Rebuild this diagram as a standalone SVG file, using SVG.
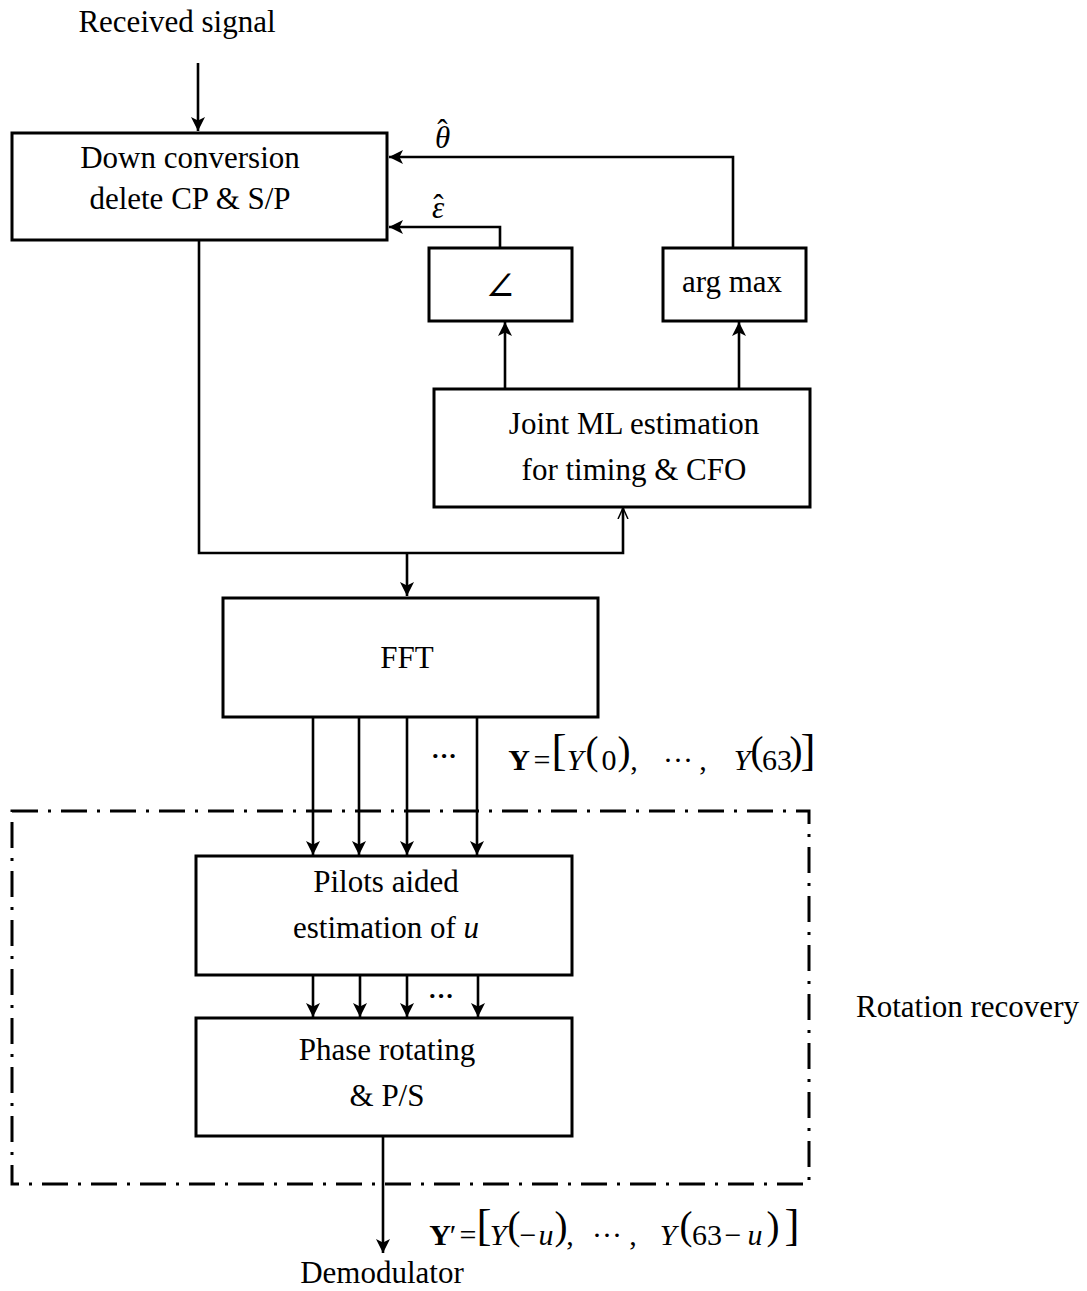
<svg xmlns="http://www.w3.org/2000/svg" width="1087" height="1291" viewBox="0 0 1087 1291">
<style>
  text { font-family: "Liberation Serif", "Times New Roman", serif; font-size: 31px; fill: #000; }
  .box { fill: #fff; stroke: #000; stroke-width: 3; }
  .c { text-anchor: middle; }
  .ln { fill: none; stroke: #000; stroke-width: 2.6; }
  .it { font-style: italic; }
  .bd { font-weight: bold; }
  .m { font-size: 30px; text-anchor: middle; }
  .p { font-size: 39px; text-anchor: middle; }
  .b { font-size: 45px; text-anchor: middle; }
  .dots { font-size: 26px; font-weight: bold; text-anchor: middle; }
</style>
<defs>
  <marker id="ah" markerUnits="userSpaceOnUse" markerWidth="16" markerHeight="16" refX="14" refY="7" orient="auto">
    <path d="M0,0 L14,7 L0,14 L3.5,7 z" fill="#000"/>
  </marker>
  <marker id="ao" markerUnits="userSpaceOnUse" markerWidth="14" markerHeight="14" refX="11" refY="6" orient="auto">
    <path d="M0,1 L11,6 L0,11" fill="none" stroke="#000" stroke-width="1.5"/>
  </marker>
</defs>

<g id="connectors">
  <line class="ln" x1="198" y1="63" x2="198" y2="131" marker-end="url(#ah)"/>
  <polyline class="ln" points="733,248 733,157 389,157" marker-end="url(#ah)"/>
  <polyline class="ln" points="500,248 500,227 389,227" marker-end="url(#ah)"/>
  <line class="ln" x1="505" y1="388" x2="505" y2="322" marker-end="url(#ah)"/>
  <line class="ln" x1="739" y1="388" x2="739" y2="322" marker-end="url(#ah)"/>
  <polyline class="ln" points="199,240 199,553 623,553 623,508" marker-end="url(#ao)"/>
  <line class="ln" x1="407" y1="553" x2="407" y2="596" marker-end="url(#ah)"/>
  <line class="ln" x1="313" y1="717" x2="313" y2="855" marker-end="url(#ah)"/>
  <line class="ln" x1="359" y1="717" x2="359" y2="855" marker-end="url(#ah)"/>
  <line class="ln" x1="407" y1="717" x2="407" y2="855" marker-end="url(#ah)"/>
  <line class="ln" x1="477" y1="717" x2="477" y2="855" marker-end="url(#ah)"/>
  <line class="ln" x1="313" y1="975" x2="313" y2="1017" marker-end="url(#ah)"/>
  <line class="ln" x1="360" y1="975" x2="360" y2="1017" marker-end="url(#ah)"/>
  <line class="ln" x1="407" y1="975" x2="407" y2="1017" marker-end="url(#ah)"/>
  <line class="ln" x1="478" y1="975" x2="478" y2="1017" marker-end="url(#ah)"/>
  <line class="ln" x1="383" y1="1136" x2="383" y2="1253" marker-end="url(#ah)"/>
</g>

<g id="rotation-recovery">
  <rect x="12" y="811" width="797" height="373" fill="none" stroke="#000" stroke-width="3" stroke-dasharray="26 10 3 10"/>
  <text x="856" y="1017">Rotation recovery</text>
</g>

<g id="received-signal">
  <text class="c" x="177" y="32">Received signal</text>
</g>

<g id="down-conversion">
  <rect class="box" x="12" y="133" width="375" height="107"/>
  <text class="c" x="190" y="168">Down conversion</text>
  <text class="c" x="190" y="209">delete CP &amp; S/P</text>
</g>

<g id="labels-feedback">
  <text x="435" y="148"><tspan class="it">θ</tspan><tspan dx="-13" dy="-7">ˆ</tspan></text>
  <text x="432" y="218"><tspan class="it">ε</tspan><tspan dx="-11" dy="-2">ˆ</tspan></text>
</g>

<g id="angle">
  <rect class="box" x="429" y="248" width="143" height="73"/>
  <text class="c" x="500" y="300" style="font-family:'DejaVu Serif','Liberation Serif',serif;font-size:40px">∠</text>
</g>

<g id="argmax">
  <rect class="box" x="663" y="248" width="143" height="73"/>
  <text class="c" x="732" y="292">arg max</text>
</g>

<g id="joint-ml">
  <rect class="box" x="434" y="389" width="376" height="118"/>
  <text class="c" x="634" y="434">Joint ML estimation</text>
  <text class="c" x="634" y="480">for timing &amp;  CFO</text>
</g>

<g id="fft">
  <rect class="box" x="223" y="598" width="375" height="119"/>
  <text class="c" x="407" y="668">FFT</text>
</g>

<g id="y-label">
  <text class="dots" x="444" y="764">···</text>
  <text class="m bd" x="519" y="770">Y</text>
  <text class="m" x="542" y="770">=</text>
  <text class="b" x="559" y="765">[</text>
  <text class="m it" x="575" y="770">Y</text>
  <text class="p" x="592" y="764">(</text>
  <text class="m" x="609" y="770">0</text>
  <text class="p" x="624" y="764">)</text>
  <text class="m" x="634" y="770">,</text>
  <text class="m" x="678" y="770">···</text>
  <text class="m" x="703" y="770">,</text>
  <text class="m it" x="742" y="770">Y</text>
  <text class="p" x="757" y="764">(</text>
  <text class="m" x="777" y="770">63</text>
  <text class="p" x="796" y="764">)</text>
  <text class="b" x="808" y="765">]</text>
</g>

<g id="pilots">
  <rect class="box" x="196" y="856" width="376" height="119"/>
  <text class="c" x="386" y="892">Pilots aided</text>
  <text class="c" x="386" y="938">estimation of <tspan class="it">u</tspan></text>
</g>

<g id="dots-2">
  <text class="dots" x="441" y="1004">···</text>
</g>

<g id="phase-rotating">
  <rect class="box" x="196" y="1018" width="376" height="118"/>
  <text class="c" x="387" y="1060">Phase rotating</text>
  <text class="c" x="387" y="1106">&amp; P/S</text>
</g>

<g id="yprime-label">
  <text class="m bd" x="440" y="1245">Y</text>
  <text class="m" x="453" y="1245">′</text>
  <text class="m" x="468" y="1245">=</text>
  <text class="b" x="484" y="1240">[</text>
  <text class="m it" x="498" y="1245">Y</text>
  <text class="p" x="514" y="1239">(</text>
  <text class="m" x="528" y="1245">−</text>
  <text class="m it" x="546" y="1245">u</text>
  <text class="p" x="561" y="1239">)</text>
  <text class="m" x="570" y="1245">,</text>
  <text class="m" x="607" y="1245">···</text>
  <text class="m" x="633" y="1245">,</text>
  <text class="m it" x="668" y="1245">Y</text>
  <text class="p" x="686" y="1239">(</text>
  <text class="m" x="707" y="1245">63</text>
  <text class="m" x="733" y="1245">−</text>
  <text class="m it" x="755" y="1245">u</text>
  <text class="p" x="773" y="1239">)</text>
  <text class="b" x="792" y="1240">]</text>
</g>

<g id="demodulator">
  <text class="c" x="382" y="1283">Demodulator</text>
</g>
</svg>
